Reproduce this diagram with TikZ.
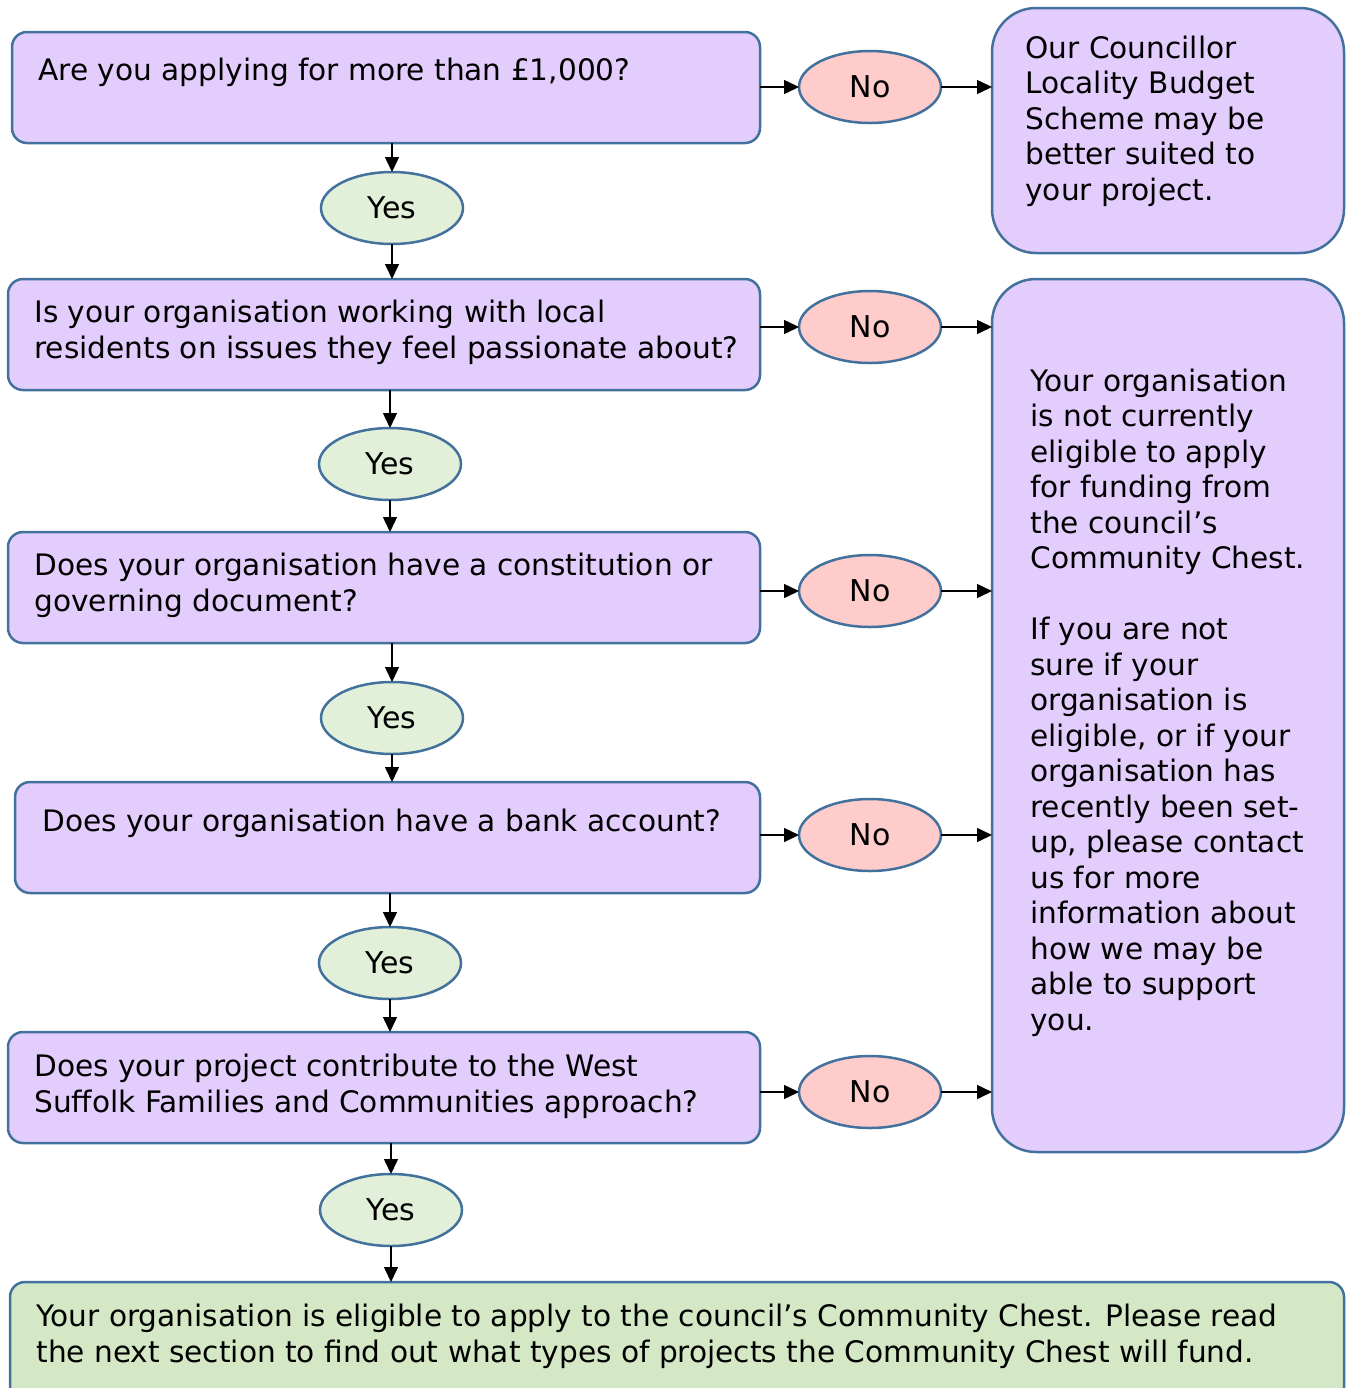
\documentclass[tikz,border=0pt]{standalone}
\usepackage{fontspec}
\setmainfont{DejaVu Sans}
\usetikzlibrary{arrows.meta,shapes.geometric}
\definecolor{purp}{RGB}{227,205,253}
\definecolor{pinkf}{RGB}{255,204,204}
\definecolor{yesf}{RGB}{226,239,217}
\definecolor{endf}{RGB}{213,232,197}
\definecolor{bord}{RGB}{65,113,156}
\begin{document}
\begin{tikzpicture}[x=0.5pt,y=-0.5pt,
  box/.style={draw=bord, line width=1.25pt, fill=purp, rounded corners=7.5pt, inner sep=0pt, outer sep=0pt, anchor=north west},
  bigbox/.style={box, rounded corners=22pt},
  endbox/.style={box, fill=endf},
  yesn/.style={ellipse, draw=bord, line width=1.25pt, fill=yesf, minimum width=71pt, minimum height=36pt, inner sep=0pt, outer sep=0pt, font=\fontsize{15}{17.75}\selectfont},
  non/.style={yesn, fill=pinkf},
  txt/.style={anchor=base west, align=left, inner sep=0pt, font=\fontsize{14.8}{17.75}\selectfont},
  arr/.style={-{Triangle[length=7.5pt,width=7pt]}, line width=0.75pt, black}]
\useasboundingbox (0,0) rectangle (1346,1388);
\clip (0,0) rectangle (1346,1388);
% question boxes
\node[box, minimum width=374pt, minimum height=55.5pt] (q1) at (12,32) {};
\node[box, minimum width=376pt, minimum height=55.5pt] (q2) at (8,279) {};
\node[box, minimum width=376pt, minimum height=55.5pt] (q3) at (8,532) {};
\node[box, minimum width=372.5pt, minimum height=55.5pt] (q4) at (15,782) {};
\node[box, minimum width=376pt, minimum height=55.5pt] (q5) at (8,1032) {};
\node[endbox, minimum width=667pt, minimum height=60pt] (fin) at (10,1282) {};
\node[bigbox, minimum width=176pt, minimum height=122.5pt] (r1) at (992,8) {};
\node[bigbox, minimum width=176pt, minimum height=436.5pt] (r2) at (992,279) {};
% texts (anchor = baseline of the last line)
\node[txt] (t1) at (38,80) {Are you applying for more than £1,000?};
\node[txt] (t2) at (34,358) {Is your organisation working with local\\residents on issues they feel passionate about?};
\node[txt] (t3) at (34,611) {Does your organisation have a constitution or\\governing document?};
\node[txt] (t4) at (42,831) {Does your organisation have a bank account?};
\node[txt] (t5) at (34,1112) {Does your project contribute to the West\\Suffolk Families and Communities approach?};
\node[txt] (tf) at (36,1362) {Your organisation is eligible to apply to the council’s Community Chest. Please read\\the next section to find out what types of projects the Community Chest will fund.};
\node[txt] (tr1) at (1025,200) {Our Councillor\\Locality Budget\\Scheme may be\\better suited to\\your project.};
\node[txt] (tr2) at (1030,1030) {Your organisation\\is not currently\\eligible to apply\\for funding from\\the council’s\\Community Chest.\\[17.6pt]If you are not\\sure if your\\organisation is\\eligible, or if your\\organisation has\\recently been set-\\up, please contact\\us for more\\information about\\how we may be\\able to support\\you.};
% yes ellipses
\node[yesn] (y1) at (392,208) {Yes};
\node[yesn] (y2) at (390,464) {Yes};
\node[yesn] (y3) at (392,718) {Yes};
\node[yesn] (y4) at (390,963) {Yes};
\node[yesn] (y5) at (391,1210) {Yes};
% no ellipses
\node[non] (n1) at (870,87) {No};
\node[non] (n2) at (870,327) {No};
\node[non] (n3) at (870,591) {No};
\node[non] (n4) at (870,835) {No};
\node[non] (n5) at (870,1092) {No};
% vertical arrows
\draw[arr] (q1.south -| y1) -- (y1.north);
\draw[arr] (y1.south) -- (y1.south |- q2.north);
\draw[arr] (q2.south -| y2) -- (y2.north);
\draw[arr] (y2.south) -- (y2.south |- q3.north);
\draw[arr] (q3.south -| y3) -- (y3.north);
\draw[arr] (y3.south) -- (y3.south |- q4.north);
\draw[arr] (q4.south -| y4) -- (y4.north);
\draw[arr] (y4.south) -- (y4.south |- q5.north);
\draw[arr] (q5.south -| y5) -- (y5.north);
\draw[arr] (y5.south) -- (y5.south |- fin.north);
% horizontal arrows
\draw[arr] (q1.east |- n1.west) -- (n1.west);
\draw[arr] (n1.east) -- (n1.east -| r1.west);
\draw[arr] (q2.east |- n2.west) -- (n2.west);
\draw[arr] (n2.east) -- (n2.east -| r2.west);
\draw[arr] (q3.east |- n3.west) -- (n3.west);
\draw[arr] (n3.east) -- (n3.east -| r2.west);
\draw[arr] (q4.east |- n4.west) -- (n4.west);
\draw[arr] (n4.east) -- (n4.east -| r2.west);
\draw[arr] (q5.east |- n5.west) -- (n5.west);
\draw[arr] (n5.east) -- (n5.east -| r2.west);
\end{tikzpicture}
\end{document}
